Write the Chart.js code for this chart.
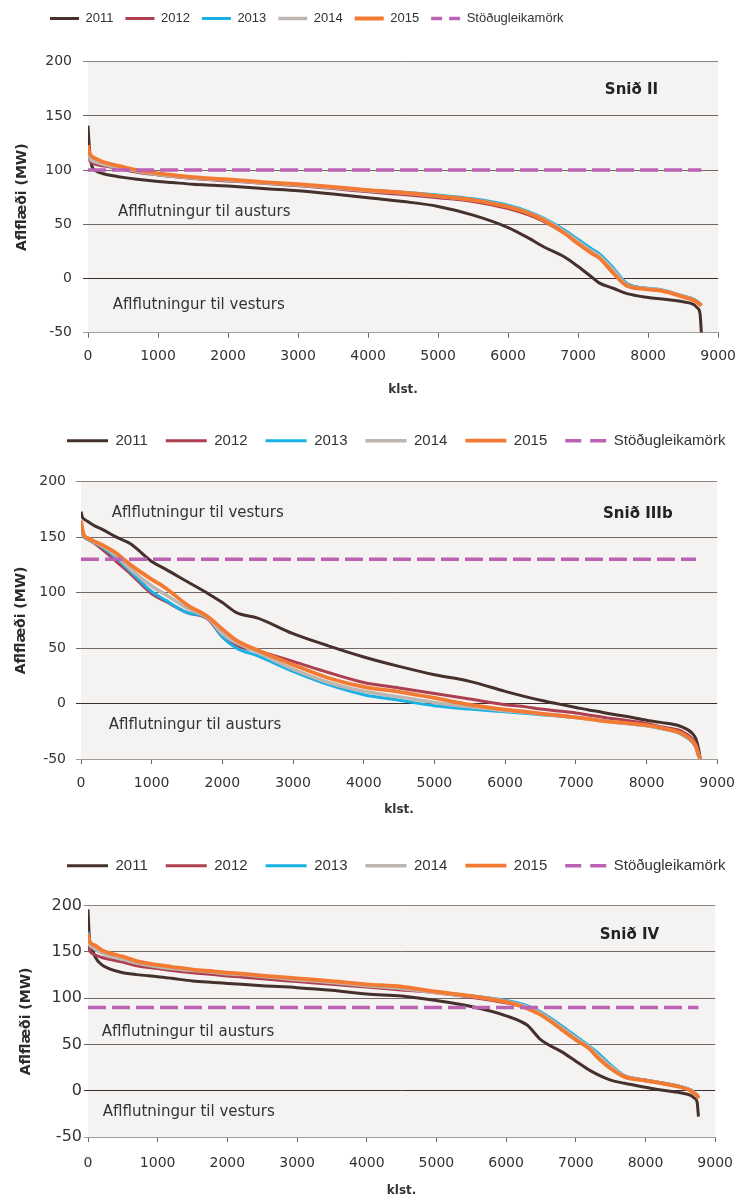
<!DOCTYPE html>
<html>
<head>
<meta charset="utf-8">
<script src="https://cdn.jsdelivr.net/npm/chart.js@4.4.1/dist/chart.umd.min.js"></script>
<style>
  html, body { margin:0; padding:0; background:#fff; overflow:hidden; }
  canvas { position:absolute; left:0; }
</style>
</head>
<body>
<canvas id="c1" width="746" height="400" style="top:0px"></canvas>
<canvas id="c2" width="746" height="400" style="top:425px"></canvas>
<canvas id="c3" width="746" height="352" style="top:848px"></canvas>
<script>
// hours of the year (duration curve sample points)
var HOURS = [0,20,50,100,200,300,500,700,1000,1200,1500,1800,2000,2200,2500,3000,3500,4000,4500,5000,5500,6000,6300,6500,6800,7000,7200,7300,7500,7700,8000,8200,8500,8650,8700,8740,8760]
var YEARS = ['2011','2012','2013','2014','2015']
var LIMIT_LABEL = 'Stöðugleikamörk'

// Snið II
var II_2011 = [141,120,105,100,97,95.5,93.3,91.5,89.5,88.5,87,86,85.3,84.5,83,81,78,74.5,71,66.5,58.5,47,37,29.5,20,11,1,-4,-9,-14,-17.5,-19,-21.5,-24,-27,-32,-50]
var II_2012 = [118,110,107,105.5,104,103,100.5,98,95.5,94,92.2,90.8,90,89.2,87.8,85.5,83,80,77.5,74.5,71,64.5,58.5,53,42,33,24,20,7,-5,-9.5,-11,-16.5,-19.5,-21.5,-23.5,-25]
var II_2013 = [120,113,110,108.5,106.5,105,102,99.5,96.5,95,93,91.8,91,90,88.5,86.5,84,81.5,79.5,77,73.5,67.5,61.5,56,45,36,27,23,10,-5,-9,-10.5,-16,-19,-21,-23,-24]
var II_2014 = [119,112,109,107.5,105.5,104,101.5,99,96,94.5,92.7,91.5,90.7,89.8,88.3,86.3,83.8,81,78.8,75.8,72.5,66.5,60.5,55,43.5,34,25,21,8,-6,-9.5,-11,-16.5,-19.5,-21.5,-23.5,-25]
var II_2015 = [123,116,113,111,108,106,103,100,97,95.5,93.5,92.2,91.5,90.5,89,87,84.5,81.6,79.2,76,72.4,66,60,54,42,32,23,19,5,-7,-10,-11.5,-17,-20,-22,-24,-25]
var II_LIMIT = 100, II_LIMIT_HOURS = [0,8760]

// Snið IIIb
var IIIb_2011 = [173,168,166,164,160,157,150,144,128,121,110,99,91,82,77,63,52,42,33.5,26,20,11,6,3,-1,-3.5,-6,-7,-9.5,-11.5,-15,-17,-21,-27,-32,-42,-50]
var IIIb_2012 = [162,155,150,148,144,139,128,117,99,92,82,76,60,52,47.5,38,28,19,14,9,4,-1,-3,-5,-7,-8.5,-10.5,-11.5,-13.5,-15,-18,-21,-25,-32,-37,-46,-50]
var IIIb_2013 = [160,153,150,148,145,141,131,119,101,93,82,77,60,50,43,29,17,8,3,-2,-5,-7.5,-9,-10,-11.5,-12.5,-14,-15,-16.5,-18,-20,-22.5,-28,-35,-40,-48,-50]
var IIIb_2014 = [163,155,151,149,145,142,133,121,106,98,86,77,63,55,46,31,19,11,6,1,-3,-6.5,-8,-9.5,-11,-12.5,-14,-15,-16.5,-18,-20,-22,-27.5,-34,-39,-47,-50]
var IIIb_2015 = [165,157,151,149,146,143,135.5,125,112,104,89,78,67,57,48,35,23,15,10.5,5,-1,-5.5,-7.5,-9,-11,-12.5,-14,-15,-16.5,-17.5,-19.5,-22,-27,-34,-39,-47,-50]
var IIIb_LIMIT = 130, IIIb_LIMIT_HOURS = [0,8700]

// Snið IV
var IV_2011 = [196,165,156,145,136,132,127.6,125.5,123.3,121.5,118.6,117,116,115,113.5,111.4,108.5,104.5,102.5,97.5,91,81,71,55,42,32,22,18,11.5,8,3.7,1,-2.2,-5,-8,-12,-28]
var IV_2012 = [160,152,149,147,144,142,139,135,132,130,127.5,125.5,124,123,121,118,115,112,109,106,101,95,89.5,83,68,57,47,40,26,16,11.5,9,4.5,0.5,-2.5,-5,-8]
var IV_2013 = [172,160,157,154,150,147,143,139,135,133,130.5,128.5,127,126,124,120.5,117.5,114,111,106.5,102.5,97.5,92,85,70,59,48,42,28,16.5,11.5,9,4.5,1,-2,-5,-8]
var IV_2014 = [168,158,156,153,149,146,142,138,134,132,130,128,126.5,125.5,123.5,120,117,113.5,110.5,106,102,96.5,90.5,83.5,68,57,46.5,39.5,26,16,11,8.7,4,0.5,-2.5,-5,-8]
var IV_2015 = [170,162,159,157,152,149,145,140,136,134,131,129,127.6,126.5,124.5,121.5,118.5,115,112.4,107,102.4,96,89,82,66,55,45,37,24,15,11,8.5,4,0,-3,-5,-8]
var IV_LIMIT = 90, IV_LIMIT_HOURS = [0,8760]

var X_TICKS = {min:0, max:9000, step:1000}
var Y_TICKS = {min:-50, max:200, step:50}

var COLORS = ['#45302c','#ad3f50','#17b1e4','#bdb5b0','#f37a33']
var WIDTHS = [3,3,3,3.5,3.8]
var LIMIT_COLOR = '#bb62b4'

function toPoints(xs, ys){
  return xs.map(function(h,i){ return {x:h, y:ys[i]} })
}

// plot background
var panelBg = {
  id:'panelBg',
  beforeDraw: function(chart, args, o){
    var a = chart.chartArea, ctx = chart.ctx
    ctx.save()
    ctx.fillStyle = o.color
    ctx.fillRect(a.left, a.top, a.right-a.left, a.bottom-a.top)
    ctx.restore()
  }
}

// text labels inside the plot
var notes = {
  id:'notes',
  afterDatasetsDraw: function(chart, args, o){
    var ctx = chart.ctx, x = chart.scales.x, y = chart.scales.y
    o.items.forEach(function(n){
      ctx.save()
      ctx.font = n.font
      ctx.fillStyle = n.color || '#333'
      ctx.textAlign = 'left'
      ctx.textBaseline = 'middle'
      ctx.fillText(n.text, x.getPixelForValue(n.x), y.getPixelForValue(n.y))
      ctx.restore()
    })
  }
}

// legend: fixed height and shifted position
var fixLegend = {
  id:'fixLegend',
  beforeLayout: function(chart, args, o){
    var lg = chart.legend
    if(!lg || lg._fixed) return
    lg._fixed = true
    var fit = lg.fit, draw = lg.draw
    lg.fit = function(){ fit.call(this); this.height = o.height }
    lg.draw = function(){
      var c = this.ctx
      c.save(); c.translate(o.dx, o.dy); draw.call(this); c.restore()
    }
  }
}

function makeChart(id, series, limit, limitHours, L){
  var datasets = series.map(function(vals,i){
    return {
      label:YEARS[i],
      data:toPoints(HOURS, vals),
      borderColor:COLORS[i],
      backgroundColor:COLORS[i],
      borderWidth:WIDTHS[i],
      pointRadius:0,
      cubicInterpolationMode:'monotone',
      order:5-i
    }
  })
  datasets.push({
    label:LIMIT_LABEL,
    data:limitHours.map(function(h){ return {x:h, y:limit} }),
    borderColor:LIMIT_COLOR,
    backgroundColor:LIMIT_COLOR,
    borderWidth:3.5,
    borderDash:[18,6],
    pointRadius:0,
    order:0
  })

  var plainNum = function(v){ return String(v) }

  return new Chart(document.getElementById(id).getContext('2d'), {
    type:'line',
    data:{datasets:datasets},
    plugins:[panelBg, notes, fixLegend],
    options:{
      responsive:false,
      animation:false,
      devicePixelRatio:1,
      layout:{padding:{left:0, right:L.padRight, top:0, bottom:0}},
      plugins:{
        tooltip:{enabled:false},
        panelBg:{color:'#f4f3f1'},
        fixLegend:{height:L.areaTop, dx:L.legendDx, dy:L.legendDy},
        notes:{items:L.notes},
        legend:{
          position:'top',
          align:'start',
          labels:{
            usePointStyle:true,
            pointStyle:'line',
            pointStyleWidth:L.legendLine,
            padding:L.legendGap,
            color:'#333',
            font:{family:L.legendFont, size:L.legendSize},
            sort:function(a,b){ return a.datasetIndex - b.datasetIndex },
            generateLabels:function(chart){
              var items = Chart.defaults.plugins.legend.labels.generateLabels(chart)
              items.forEach(function(it){
                var ds = chart.data.datasets[it.datasetIndex]
                it.lineWidth = ds.borderWidth
                it.strokeStyle = ds.borderColor
                it.lineDash = ds.borderDash ? L.legendDash : []
              })
              return items
            }
          }
        }
      },
      scales:{
        x:{
          type:'linear',
          min:X_TICKS.min, max:X_TICKS.max,
          afterFit:function(s){ s.height = L.xAxisH },
          ticks:{stepSize:X_TICKS.step, color:'#333', padding:L.xTickPad, maxRotation:0,
                 callback:plainNum, font:{family:'DejaVu Sans', size:14}},
          grid:{drawOnChartArea:false, drawTicks:true, tickLength:5, color:'#6e6461'},
          border:{display:true, color:'#a39d9a'},
          title:{display:true, text:'klst.', color:'#333', padding:{top:0, bottom:L.xTitlePad},
                 font:{family:'DejaVu Sans', size:12, weight:'bold'}}
        },
        y:{
          min:Y_TICKS.min, max:Y_TICKS.max,
          afterFit:function(s){ s.width = L.areaLeft },
          ticks:{stepSize:Y_TICKS.step, color:'#333', padding:L.yTickPad,
                 callback:plainNum, font:{family:'DejaVu Sans', size:L.yTickSize}},
          grid:{
            tickLength:L.yTickLen,
            color:function(c){
              var v = c.tick.value
              if(v === 0) return '#3b2d2b'
              if(v === -50) return '#a39d9a'
              if(v === 200) return '#8c8380'
              return '#746966'
            }
          },
          border:{display:false},
          title:{display:true, text:'Aflflæði (MW)', color:'#2b2b2b', padding:{top:L.yTitlePad, bottom:0},
                 font:{family:'DejaVu Sans', size:14, weight:'bold'}}
        }
      }
    }
  })
}

var noteFont = '15px "DejaVu Sans"'
var titleFont = 'bold 15px "DejaVu Sans"'

makeChart('c1', [II_2011,II_2012,II_2013,II_2014,II_2015], II_LIMIT, II_LIMIT_HOURS, {
  areaLeft:88, areaTop:61.7, padRight:25, xAxisH:67.3,
  legendDx:38, legendDy:0, legendLine:29, legendGap:12, legendDash:[11,7],
  legendFont:"'Liberation Sans Narrow', 'Liberation Sans', sans-serif", legendSize:13,
  xTickPad:10, xTitlePad:3, yTickPad:11, yTickLen:5, yTickSize:14, yTitlePad:13.6,
  notes:[
    {text:'Aflflutningur til austurs', x:427, y:61.6, font:noteFont},
    {text:'Aflflutningur til vesturs', x:355, y:-24.5, font:noteFont},
    {text:'Snið II', x:7381, y:174, font:titleFont, color:'#222'}
  ]
})

makeChart('c2', [IIIb_2011,IIIb_2012,IIIb_2013,IIIb_2014,IIIb_2015], IIIb_LIMIT, IIIb_LIMIT_HOURS, {
  areaLeft:81, areaTop:56.7, padRight:24, xAxisH:66,
  legendDx:49, legendDy:-9.8, legendLine:41, legendGap:18, legendDash:[16,9],
  legendFont:"'Liberation Sans', sans-serif", legendSize:15,
  xTickPad:11, xTitlePad:7.8, yTickPad:10, yTickLen:5, yTickSize:14, yTitlePad:13.3,
  notes:[
    {text:'Aflflutningur til vesturs', x:435, y:172, font:noteFont},
    {text:'Aflflutningur til austurs', x:393, y:-19.4, font:noteFont},
    {text:'Snið IIIb', x:7385, y:171, font:titleFont, color:'#222'}
  ]
})

makeChart('c3', [IV_2011,IV_2012,IV_2013,IV_2014,IV_2015], IV_LIMIT, IV_LIMIT_HOURS, {
  areaLeft:88, areaTop:57.7, padRight:22, xAxisH:63,
  legendDx:49, legendDy:-7.8, legendLine:41, legendGap:18, legendDash:[16,9],
  legendFont:"'Liberation Sans', sans-serif", legendSize:15,
  xTickPad:13, xTitlePad:1.5, yTickPad:2, yTickLen:4, yTickSize:16, yTitlePad:18.3,
  notes:[
    {text:'Aflflutningur til austurs', x:198, y:63.8, font:noteFont},
    {text:'Aflflutningur til vesturs', x:212, y:-22.7, font:noteFont},
    {text:'Snið IV', x:7344, y:168, font:titleFont, color:'#222'}
  ]
})
</script>
</body>
</html>
